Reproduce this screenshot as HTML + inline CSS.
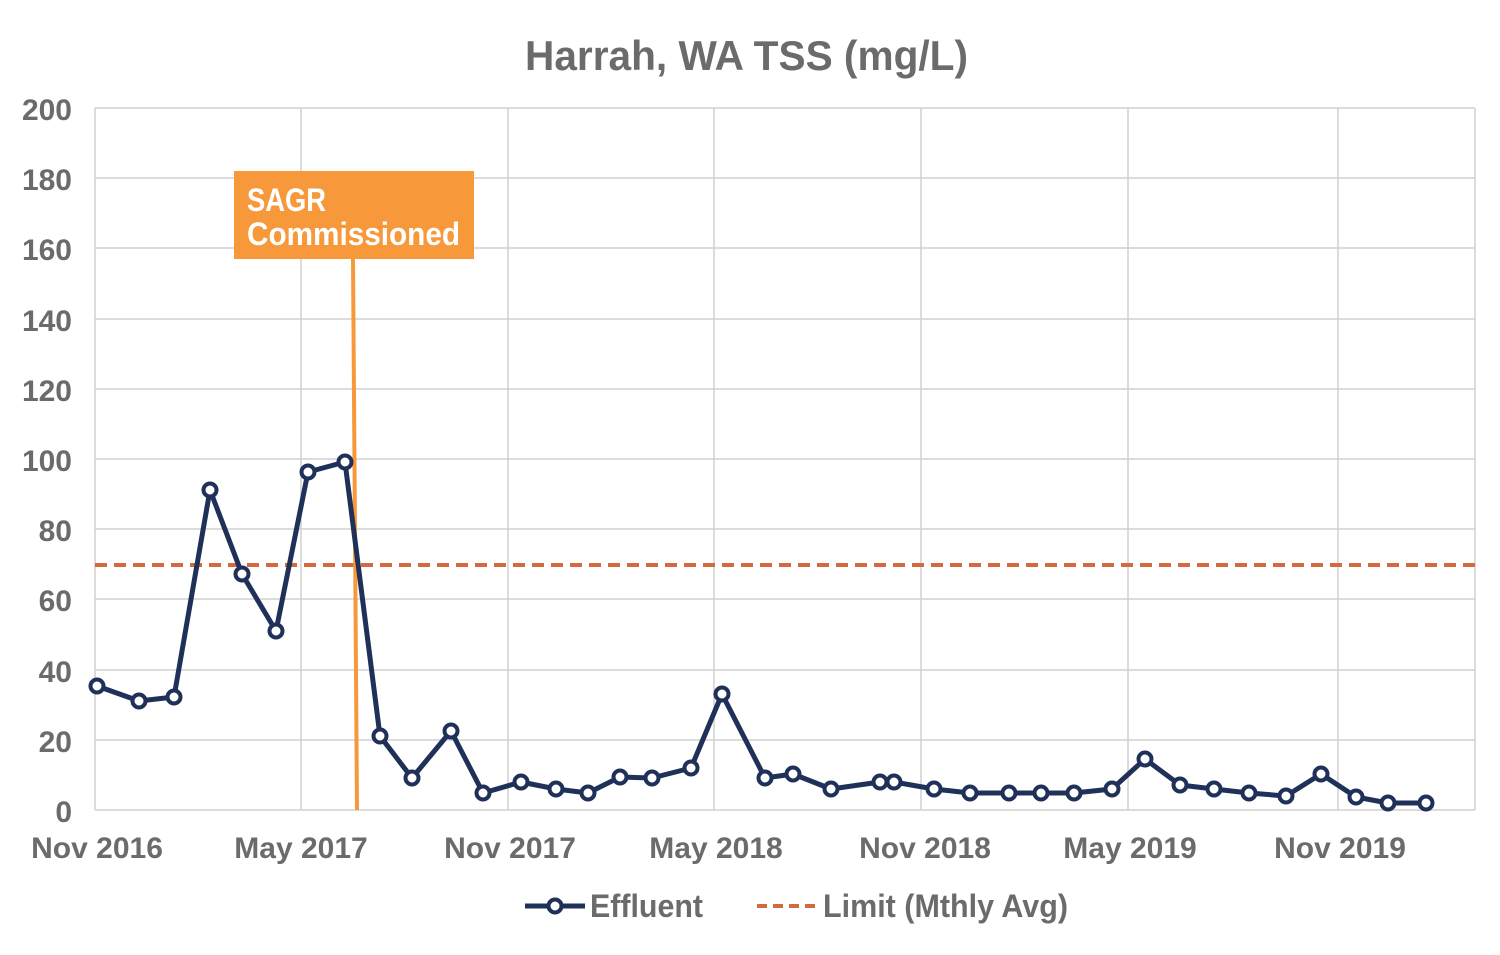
<!DOCTYPE html>
<html><head><meta charset="utf-8"><style>
body{margin:0;background:#fff}
svg text{font-family:"Liberation Sans Narrow","Liberation Sans",sans-serif;font-weight:bold;fill:#6b6b6b}
</style></head><body>
<svg width="1500" height="950" xmlns="http://www.w3.org/2000/svg">
<text x="525" y="70" font-size="42" textLength="443" lengthAdjust="spacingAndGlyphs">Harrah, WA TSS (mg/L)</text>
<g stroke="#d0d0d0" stroke-width="1.5">
<line x1="95" y1="108" x2="1475" y2="108"/><line x1="95" y1="178" x2="1475" y2="178"/>
<line x1="95" y1="248" x2="1475" y2="248"/><line x1="95" y1="319" x2="1475" y2="319"/>
<line x1="95" y1="389" x2="1475" y2="389"/><line x1="95" y1="459" x2="1475" y2="459"/>
<line x1="95" y1="529" x2="1475" y2="529"/><line x1="95" y1="599" x2="1475" y2="599"/>
<line x1="95" y1="670" x2="1475" y2="670"/><line x1="95" y1="740" x2="1475" y2="740"/>
<line x1="95" y1="810" x2="1475" y2="810"/>
<line x1="95" y1="108" x2="95" y2="810"/><line x1="301" y1="108" x2="301" y2="810"/>
<line x1="508" y1="108" x2="508" y2="810"/><line x1="714" y1="108" x2="714" y2="810"/>
<line x1="921" y1="108" x2="921" y2="810"/><line x1="1128" y1="108" x2="1128" y2="810"/>
<line x1="1338" y1="108" x2="1338" y2="810"/><line x1="1475" y1="108" x2="1475" y2="810"/>
</g>
<g font-size="30" text-anchor="end">
<text x="72" y="120">200</text><text x="72" y="190">180</text><text x="72" y="260">160</text>
<text x="72" y="331">140</text><text x="72" y="401">120</text><text x="72" y="471">100</text>
<text x="72" y="541">80</text><text x="72" y="611">60</text><text x="72" y="682">40</text>
<text x="72" y="752">20</text><text x="72" y="822">0</text>
</g>
<g font-size="30" text-anchor="middle">
<text x="97" y="858">Nov 2016</text><text x="301" y="858">May 2017</text><text x="510" y="858">Nov 2017</text>
<text x="716" y="858">May 2018</text><text x="925" y="858">Nov 2018</text><text x="1130" y="858">May 2019</text>
<text x="1340" y="858">Nov 2019</text>
</g>
<line x1="95" y1="565" x2="1475" y2="565" stroke="#d4693f" stroke-width="4" stroke-dasharray="12,7"/>
<rect x="234" y="171" width="240" height="88" fill="#f7993a"/>
<text x="247" y="211" font-size="32" textLength="79" lengthAdjust="spacingAndGlyphs" style="fill:#fff">SAGR</text>
<text x="247" y="245" font-size="32" textLength="213" lengthAdjust="spacingAndGlyphs" style="fill:#fff">Commissioned</text>
<line x1="353" y1="258" x2="357" y2="810" stroke="#f7993a" stroke-width="4"/>
<polyline fill="none" stroke="#1f3158" stroke-width="5" stroke-linejoin="round" points="97,686 139,701 174,697 210,490 242,574 276,631 308,472 345,462 380,736 412,778 451,731 483,793 521,782 556,789 588,793 620,777 652,778 691,768 722,694 765,778 793,774 831,789 880,782 894,782 934,789 970,793 1009,793 1041,793 1074,793 1112,789 1145,759 1180,785 1214,789 1249,793 1286,796 1321,774 1356,797 1388,803 1426,803"/>
<g fill="#fff" stroke="#1f3158" stroke-width="4">
<circle cx="97" cy="686" r="6.5"/><circle cx="139" cy="701" r="6.5"/><circle cx="174" cy="697" r="6.5"/><circle cx="210" cy="490" r="6.5"/><circle cx="242" cy="574" r="6.5"/><circle cx="276" cy="631" r="6.5"/><circle cx="308" cy="472" r="6.5"/><circle cx="345" cy="462" r="6.5"/><circle cx="380" cy="736" r="6.5"/><circle cx="412" cy="778" r="6.5"/><circle cx="451" cy="731" r="6.5"/><circle cx="483" cy="793" r="6.5"/><circle cx="521" cy="782" r="6.5"/><circle cx="556" cy="789" r="6.5"/><circle cx="588" cy="793" r="6.5"/><circle cx="620" cy="777" r="6.5"/><circle cx="652" cy="778" r="6.5"/><circle cx="691" cy="768" r="6.5"/><circle cx="722" cy="694" r="6.5"/><circle cx="765" cy="778" r="6.5"/><circle cx="793" cy="774" r="6.5"/><circle cx="831" cy="789" r="6.5"/><circle cx="880" cy="782" r="6.5"/><circle cx="894" cy="782" r="6.5"/><circle cx="934" cy="789" r="6.5"/><circle cx="970" cy="793" r="6.5"/><circle cx="1009" cy="793" r="6.5"/><circle cx="1041" cy="793" r="6.5"/><circle cx="1074" cy="793" r="6.5"/><circle cx="1112" cy="789" r="6.5"/><circle cx="1145" cy="759" r="6.5"/><circle cx="1180" cy="785" r="6.5"/><circle cx="1214" cy="789" r="6.5"/><circle cx="1249" cy="793" r="6.5"/><circle cx="1286" cy="796" r="6.5"/><circle cx="1321" cy="774" r="6.5"/><circle cx="1356" cy="797" r="6.5"/><circle cx="1388" cy="803" r="6.5"/><circle cx="1426" cy="803" r="6.5"/>
</g>
<line x1="525" y1="906" x2="585" y2="906" stroke="#1f3158" stroke-width="5"/>
<circle cx="555" cy="906" r="6.5" fill="#fff" stroke="#1f3158" stroke-width="4"/>
<text x="590" y="917" font-size="32" textLength="113" lengthAdjust="spacingAndGlyphs">Effluent</text>
<line x1="757" y1="906" x2="815" y2="906" stroke="#d4693f" stroke-width="4" stroke-dasharray="10,6"/>
<text x="823" y="917" font-size="32" textLength="245" lengthAdjust="spacingAndGlyphs">Limit (Mthly Avg)</text>
</svg>
</body></html>
